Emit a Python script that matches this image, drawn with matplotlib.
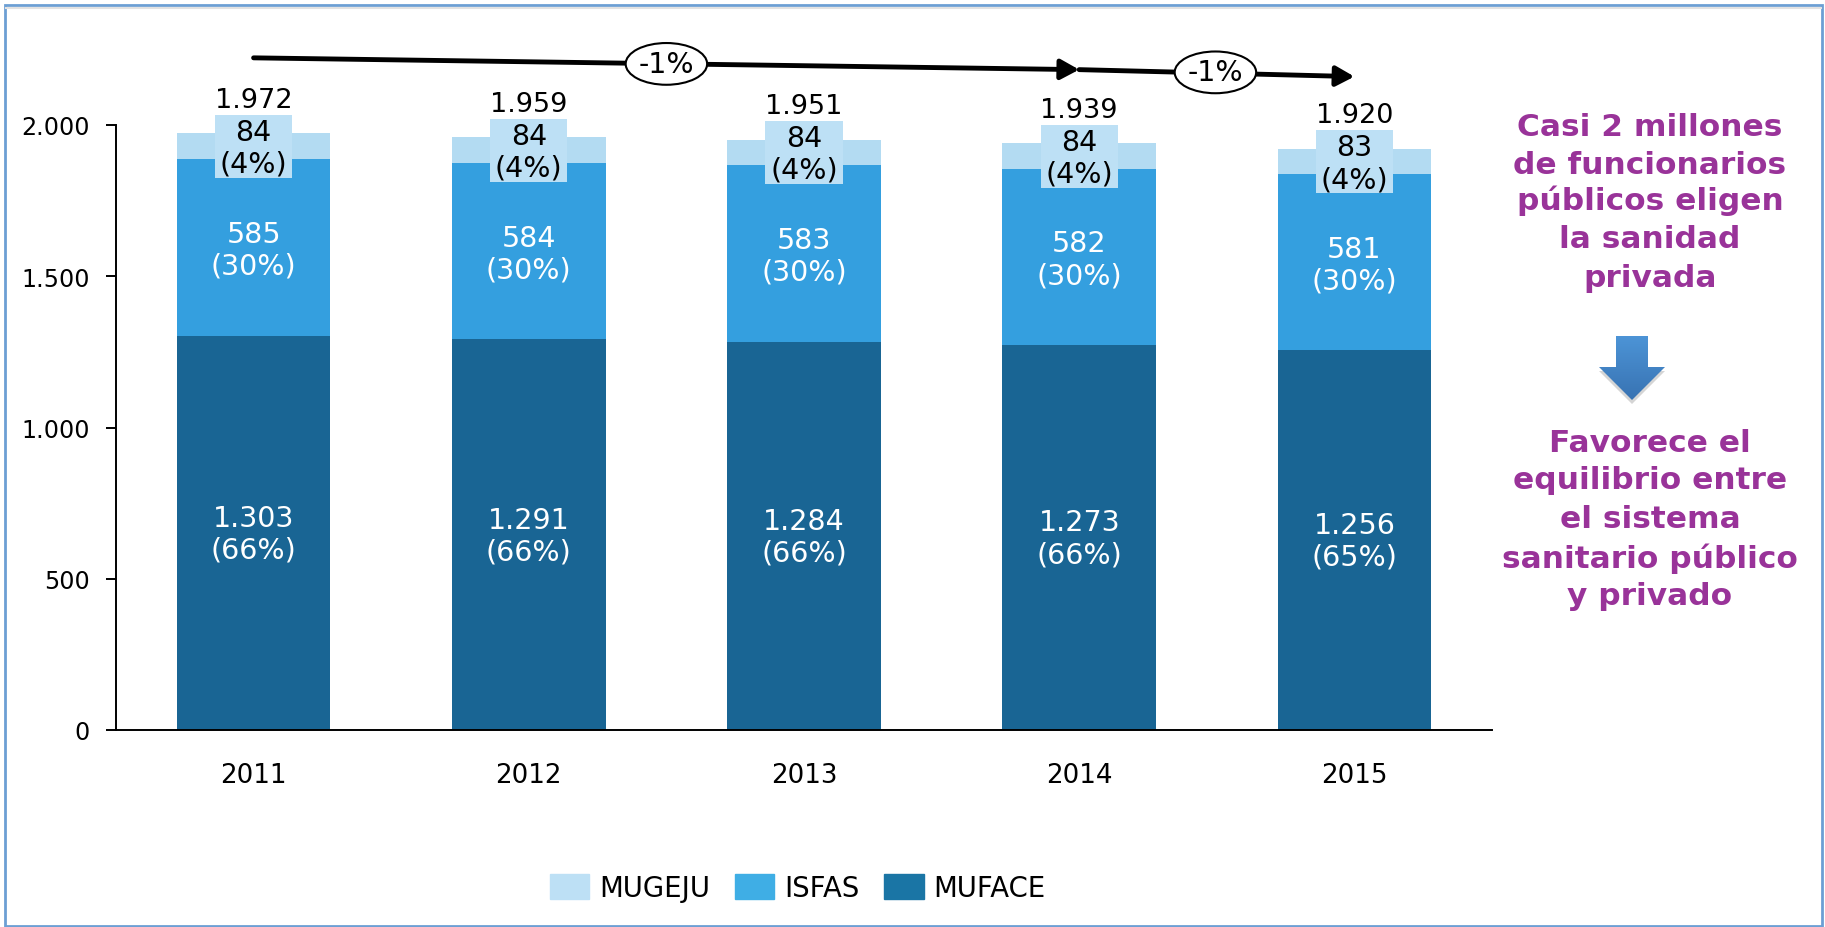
import matplotlib
matplotlib.use("Agg")
import matplotlib.pyplot as plt
import numpy as np
from matplotlib.patches import Ellipse, Patch, Polygon, Rectangle

plt.rcParams['font.family'] = ['DejaVu Sans']

years = ['2011', '2012', '2013', '2014', '2015']
muface = [1303, 1291, 1284, 1273, 1256]
isfas = [585, 584, 583, 582, 581]
mugeju = [84, 84, 84, 84, 83]
totals = [1972, 1959, 1951, 1939, 1920]
muface_pct = ['66%', '66%', '66%', '66%', '65%']
isfas_pct = ['30%', '30%', '30%', '30%', '30%']
mugeju_pct = ['4%', '4%', '4%', '4%', '4%']
yticks = [0, 500, 1000, 1500, 2000]
ytick_labels = ['0', '500', '1.000', '1.500', '2.000']
fmt = lambda v: f'{v:,}'.replace(',', '.')

W, H = 1825, 928
C_MUFACE, C_ISFAS, C_MUGEJU = '#196594', '#349FDF', '#B3DBF2'
PURPLE = '#993399'
FS = 20.5
LS = 1.17

fig = plt.figure(figsize=(W / 100, H / 100), dpi=100, facecolor='white')
ax = fig.add_axes([116 / W, 1 - 731 / H, (1492 - 116) / W, (731 - 126) / H])

x = np.arange(len(years))
bw = 0.558
ax.bar(x, muface, bw, color=C_MUFACE)
ax.bar(x, isfas, bw, bottom=muface, color=C_ISFAS)
bot2 = np.add(muface, isfas)
ax.bar(x, mugeju, bw, bottom=bot2, color=C_MUGEJU)

ax.set_xlim(-0.5, 4.5)
ax.set_ylim(0, 2000)
ax.set_xticks(x, years)
ax.set_yticks(yticks, ytick_labels)
for s in ('top', 'right'):
    ax.spines[s].set_visible(False)
for s in ('left', 'bottom'):
    ax.spines[s].set_linewidth(1.4)
ax.tick_params(axis='x', length=0, pad=23, labelsize=18.8)
ax.tick_params(axis='y', length=7, width=1.4, pad=12, labelsize=17.2)

for i in x:
    mid = bot2[i] + mugeju[i] / 2
    ax.add_patch(Rectangle((i - 0.14, mid - 104), 0.28, 208, fc='#BDE0F5', ec='none', zorder=3, clip_on=False))
    ax.text(i, muface[i] / 2 - 3, f'{fmt(muface[i])}\n({muface_pct[i]})', ha='center', va='center',
            color='white', fontsize=FS, linespacing=LS, zorder=4)
    ax.text(i, muface[i] + isfas[i] / 2 - 8, f'{fmt(isfas[i])}\n({isfas_pct[i]})', ha='center', va='center',
            color='white', fontsize=FS, linespacing=LS, zorder=4)
    ax.text(i, mid - 5, f'{fmt(mugeju[i])}\n({mugeju_pct[i]})', ha='center', va='center',
            color='black', fontsize=FS, linespacing=LS, zorder=4)
    ax.text(i, totals[i] + 112, fmt(totals[i]), ha='center', va='center', color='black', fontsize=19.5, zorder=4)

# Trend arrows
def trend(x0, y0, x1, y1):
    ax.annotate('', xy=(x1, y1), xytext=(x0, y0), annotation_clip=False,
                arrowprops=dict(arrowstyle='-|>,head_length=0.55,head_width=0.3', lw=3.5, color='black',
                                shrinkA=0, shrinkB=0, mutation_scale=20))

trend(0, 2222, 3.0, 2183)
trend(3.0, 2183, 4.0, 2160)

def badge(xc, yc, label):
    ax.add_patch(Ellipse((xc, yc), 0.296, 138, fc='white', ec='black', lw=1.5, clip_on=False, zorder=5))
    ax.text(xc, yc, label, ha='center', va='center', fontsize=FS, zorder=6, clip_on=False)

badge(1.5, 2202, '-1%')
badge(3.495, 2174, '-1%')

# Side text
top_lines = ['Casi 2 millones', 'de funcionarios', 'públicos eligen', 'la sanidad', 'privada']
top_y = [127, 165, 201, 240, 279]
bot_lines = ['Favorece el', 'equilibrio entre', 'el sistema', 'sanitario público', 'y privado']
bot_y = [444, 481, 520, 559, 597]
for lines, ys in ((top_lines, top_y), (bot_lines, bot_y)):
    for t, y in zip(lines, ys):
        fig.text(1650 / W, 1 - y / H, t, ha='center', va='center', color=PURPLE,
                 fontsize=22.5, fontweight='bold')

# Block arrow with a vertical gradient
ax_a = fig.add_axes([1595 / W, 1 - 410 / H, 74 / W, 76 / H])
ax_a.set_axis_off()
shadow = Polygon([(21, 7), (53, 7), (53, 38), (70, 38), (37, 71), (4, 38), (21, 38)], fc='#d5d5d5', ec='none')
ax_a.add_patch(shadow)
grad = np.linspace(0, 1, 64)[:, None]
c0, c1 = np.array([0.30, 0.58, 0.84]), np.array([0.22, 0.45, 0.70])
rgb = (c0[None, None, :] * (1 - grad[..., None]) + c1[None, None, :] * grad[..., None])
im = ax_a.imshow(rgb, extent=(0, 74, 67, 3), aspect='auto', zorder=2)
arrow = Polygon([(21, 3), (53, 3), (53, 34), (70, 34), (37, 67), (4, 34), (21, 34)], transform=ax_a.transData, fc='none', ec='none')
ax_a.add_patch(arrow)
im.set_clip_path(arrow)
ax_a.set_xlim(0, 74)
ax_a.set_ylim(76, 0)

# Legend
handles = [Patch(color='#BDE0F5', label='MUGEJU'), Patch(color='#3FAEE5', label='ISFAS'), Patch(color='#1A75A5', label='MUFACE')]
fig.legend(handles=handles, loc='center', bbox_to_anchor=(798 / W, 1 - 889 / H), ncol=3, frameon=False,
           fontsize=19.8, handlelength=1.43, handleheight=1.05, handletextpad=0.36, columnspacing=0.9)

# Frame
fig.add_artist(Rectangle((5 / W, 1 / H), (1822 - 5) / W, (922 - 1) / H, transform=fig.transFigure,
                         fill=False, ec='#6C9FD4', lw=2))
fig.add_artist(plt.Line2D([6 / W, 1821 / W], [1 - 9 / H, 1 - 9 / H], color='#e2e2e2', lw=1.5))

fig.savefig('out.png', dpi=100)
